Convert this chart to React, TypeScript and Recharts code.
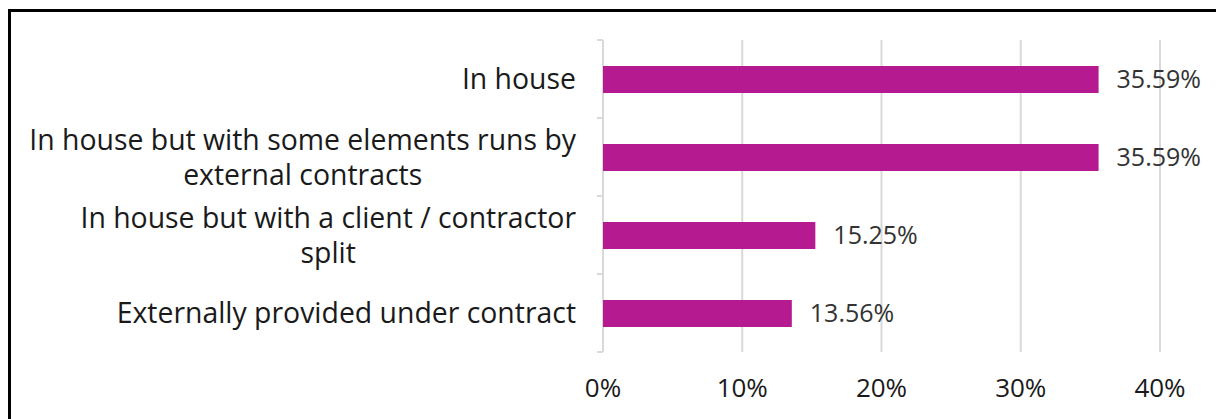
import React from "react";
import {
  BarChart,
  Bar,
  XAxis,
  YAxis,
  CartesianGrid,
  LabelList,
} from "recharts";

const categories = [
  "In house",
  "In house but with some elements runs by\nexternal contracts",
  "In house but with a client / contractor\nsplit",
  "Externally provided under contract",
];
const shares = [35.59, 35.59, 15.25, 13.56];
const xTicks = [0, 10, 20, 30, 40];

const data = categories.map((name, i) => ({ name, value: shares[i] }));

const W = 1216;
const H = 419;
const MARGIN = { top: 40, right: 56, bottom: 27, left: 0 };
const X_AXIS_H = 40;
const BAND = (H - MARGIN.top - MARGIN.bottom - X_AXIS_H) / categories.length;

const FONT = "'Open Sans', sans-serif";
const CAT_SIZE = 28.4;
const LINE_GAP = 35;
const TICK_SIZE = 6;
const TICK_MARGIN = 21;
const GRID = "#d9d9d9";

let ctx: CanvasRenderingContext2D | null = null;
function measure(text: string) {
  if (!ctx) ctx = document.createElement("canvas").getContext("2d");
  if (!ctx) return text.length * CAT_SIZE * 0.5;
  ctx.font = `${CAT_SIZE}px ${FONT}`;
  return ctx.measureText(text).width;
}

function CategoryTick(props: any) {
  const { x, y, payload, index } = props;
  const lines: string[] = String(payload.value).split("\n");
  const ax = x + TICK_SIZE + TICK_MARGIN;
  const marks = (
    <g stroke={GRID} strokeWidth={2}>
      <line x1={ax - TICK_SIZE} x2={ax} y1={y - BAND / 2} y2={y - BAND / 2} />
      {index === categories.length - 1 && (
        <line x1={ax - TICK_SIZE} x2={ax} y1={y + BAND / 2} y2={y + BAND / 2} />
      )}
    </g>
  );
  if (lines.length === 1) {
    return (
      <g>
        {marks}
        <text x={x} y={y} dy="0.36em" textAnchor="end" fontSize={CAT_SIZE} fontFamily={FONT} fill="#1a1a1a">
          {lines[0]}
        </text>
      </g>
    );
  }
  const w = Math.max(...lines.map(measure));
  const cx = x - w / 2;
  const start = y - ((lines.length - 1) * LINE_GAP) / 2;
  return (
    <g>
      {marks}
      <text textAnchor="middle" fontSize={CAT_SIZE} fontFamily={FONT} fill="#1a1a1a">
        {lines.map((l, i) => (
          <tspan key={i} x={cx} y={start + i * LINE_GAP} dy="0.36em">
            {l}
          </tspan>
        ))}
      </text>
    </g>
  );
}

function XTick(props: any) {
  const { x, y, payload } = props;
  return (
    <text x={x} y={y + 37} textAnchor="middle" fontSize={26} fontFamily={FONT} fill="#1a1a1a">
      {`${payload.value}%`}
    </text>
  );
}

export default function App() {
  return (
    <div>
      <div
        style={{
          position: "absolute",
          left: 8,
          top: 9,
          width: 1300,
          height: 500,
          border: "3px solid #000",
        }}
      />
      <div style={{ position: "absolute", left: 0, top: 0, width: W, height: H }}>
        <BarChart width={W} height={H} data={data} layout="vertical" margin={MARGIN}>
          <CartesianGrid horizontal={false} stroke={GRID} strokeWidth={2} />
          <XAxis
            type="number"
            domain={[0, 40]}
            ticks={xTicks}
            axisLine={false}
            tickLine={false}
            height={X_AXIS_H}
            tick={<XTick />}
          />
          <YAxis
            type="category"
            dataKey="name"
            width={603}
            axisLine={false}
            tickLine={false}
            tickSize={TICK_SIZE}
            tickMargin={TICK_MARGIN}
            interval={0}
            tick={<CategoryTick />}
          />
          <Bar dataKey="value" fill="#b51a90" barSize={27} isAnimationActive={false}>
            <LabelList
              dataKey="value"
              position="right"
              offset={18}
              formatter={(v: any) => `${Number(v).toFixed(2)}%`}
              fontSize={25}
              fontFamily={FONT}
              fill="#333"
            />
          </Bar>
        </BarChart>
      </div>
    </div>
  );
}
